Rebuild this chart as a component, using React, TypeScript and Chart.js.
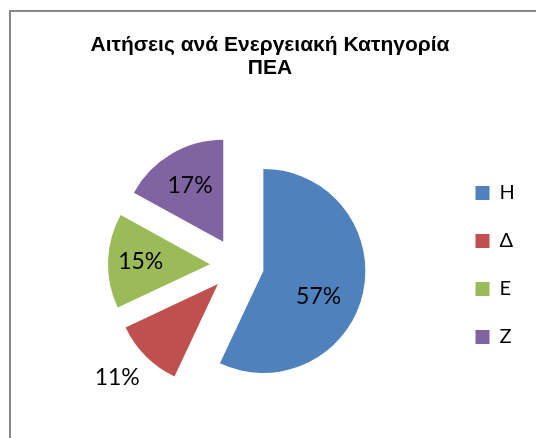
import React, { useEffect, useRef } from 'react';
import { Chart, registerables } from 'chart.js';

Chart.register(...registerables);

const TITLE_LINES = ['Αιτήσεις ανά Ενεργειακή Κατηγορία', 'ΠΕΑ'];
const CATEGORIES = ['Η', 'Δ', 'Ε', 'Ζ'];
const SHARES = [57, 11, 15, 17];
const COLORS = ['#4F81BD', '#C0504D', '#9BBB59', '#8064A2'];

// styling
const EXPLODE = 27;
const LABEL_PLACEMENT = [
  { r: 0.6, da: 12.7 },
  { r: 1.35, da: 2 },
  { r: 0.68, da: 0 },
  { r: 0.64, da: 0 },
];
const LABEL_FONT = '23px Lato, "Noto Sans", sans-serif';
const BODY_FONT = 'Lato, "Noto Sans", sans-serif';

const borderPlugin = {
  id: 'chartBorder',
  beforeDraw(chart: any) {
    const ctx = chart.ctx;
    ctx.save();
    ctx.strokeStyle = '#878787';
    ctx.lineWidth = 2;
    ctx.beginPath();
    ctx.moveTo(10, chart.height + 2);
    ctx.lineTo(10, 11);
    ctx.lineTo(chart.width + 2, 11);
    ctx.stroke();
    ctx.restore();
  },
};

const explodePlugin = {
  id: 'explodeSlices',
  beforeDatasetDraw(chart: any, args: any) {
    const ctx = chart.ctx;
    args.meta.data.forEach((arc: any) => {
      const { startAngle, endAngle } = arc.getProps(['startAngle', 'endAngle'], true);
      const mid = (startAngle + endAngle) / 2;
      ctx.save();
      ctx.translate(Math.cos(mid) * EXPLODE, Math.sin(mid) * EXPLODE);
      arc.draw(ctx, chart.chartArea);
      ctx.restore();
    });
    return false;
  },
};

const labelPlugin = {
  id: 'sliceLabels',
  afterDatasetsDraw(chart: any) {
    const ctx = chart.ctx;
    const meta = chart.getDatasetMeta(0);
    const values = chart.data.datasets[0].data as number[];
    const total = values.reduce((a, b) => a + b, 0);
    ctx.save();
    ctx.font = LABEL_FONT;
    ctx.fillStyle = '#000000';
    ctx.textAlign = 'center';
    ctx.textBaseline = 'middle';
    meta.data.forEach((arc: any, i: number) => {
      const { x, y, startAngle, endAngle, outerRadius } = arc.getProps(
        ['x', 'y', 'startAngle', 'endAngle', 'outerRadius'],
        true
      );
      const mid = (startAngle + endAngle) / 2;
      const bx = x + Math.cos(mid) * EXPLODE;
      const by = y + Math.sin(mid) * EXPLODE;
      const p = LABEL_PLACEMENT[i];
      const a = mid + (p.da * Math.PI) / 180;
      const text = Math.round((values[i] / total) * 100) + '%';
      ctx.fillText(text, bx + Math.cos(a) * outerRadius * p.r, by + Math.sin(a) * outerRadius * p.r);
    });
    ctx.restore();
  },
};

export default function App() {
  const canvasRef = useRef<HTMLCanvasElement | null>(null);

  useEffect(() => {
    document.body.style.margin = '0';
    const canvas = canvasRef.current;
    if (!canvas) return;
    const chart = new Chart(canvas, {
      type: 'pie',
      data: {
        labels: CATEGORIES,
        datasets: [
          {
            data: SHARES,
            backgroundColor: COLORS,
            borderWidth: 0,
            radius: 102,
          } as any,
        ],
      },
      options: {
        responsive: false,
        animation: false,
        layout: { padding: { left: 26.5, right: 22.5, top: 0, bottom: 0 } },
        plugins: {
          title: {
            display: true,
            text: TITLE_LINES,
            color: '#000000',
            font: {
              family: '"Liberation Sans", Arial, sans-serif',
              size: 21,
              weight: 'bold',
              lineHeight: 1.12,
            },
            padding: { top: 33, bottom: 12 },
          },
          legend: {
            position: 'right',
            fullSize: false,
            maxWidth: 66,
            labels: {
              boxWidth: 14,
              boxHeight: 14,
              padding: 28,
              color: '#000000',
              font: { family: BODY_FONT, size: 20 },
            },
          },
          tooltip: { enabled: false },
        },
      } as any,
      plugins: [borderPlugin, explodePlugin, labelPlugin],
    });
    return () => chart.destroy();
  }, []);

  return (
    <canvas
      ref={canvasRef}
      width={536}
      height={438}
      style={{ display: 'block', width: '536px', height: '438px' }}
    />
  );
}
